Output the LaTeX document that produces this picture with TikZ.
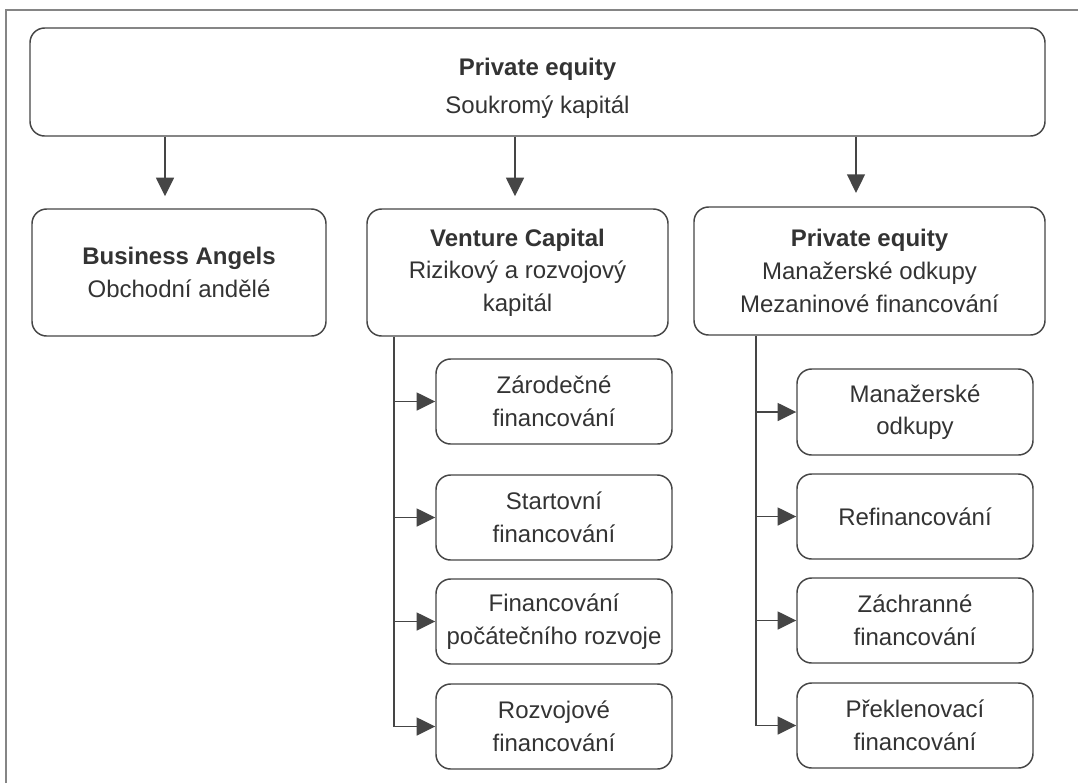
\documentclass[tikz,border=0pt]{standalone}
\usepackage{fontspec}
\setmainfont{Liberation Sans}
\usetikzlibrary{arrows.meta}
\definecolor{ink}{HTML}{333333}
\definecolor{linec}{HTML}{454545}
\definecolor{framec}{HTML}{858585}
\tikzset{
  box/.style 2 args={draw=linec, line width=1.1pt, rounded corners=11pt, align=center,
    text=ink, inner sep=0pt, minimum width=#1*0.75pt, minimum height=#2*0.75pt,
    font=\fontsize{18}{24.5}\selectfont},
  arr/.style={draw=linec, line width=1.1pt, -{Triangle[length=14pt,width=13.5pt]}},
  trunk/.style={draw=linec, line width=1.1pt}
}
\begin{document}
\begin{tikzpicture}[x=0.75pt, y=-0.75pt]
\useasboundingbox (0,0) rectangle (1078,783);
\draw[framec, line width=1.6pt] (6,783) -- (6,10) -- (1078,10);

\node[box={1015}{108}] (top) at (537.5,82) {\rule{0pt}{22pt}\textbf{Private equity}\\[4pt]Soukromý kapitál};
\node[box={294}{127}] (ba) at (179,272.5) {\textbf{Business Angels}\\Obchodní andělé};
\node[box={301}{127}] (vc) at (517.5,272.5) {\textbf{Venture Capital}\\Rizikový a rozvojový\\kapitál};
\node[box={351}{128}] (pe) at (869.5,271) {\textbf{Private equity}\\Manažerské odkupy\\Mezaninové financování};

\node[box={236}{85}] (z1) at (554,401.5) {Zárodečné\\financování};
\node[box={236}{85}] (z2) at (554,517.5) {Startovní\\financování};
\node[box={236}{85}] (z3) at (554,621.5) {Financování\\počátečního rozvoje};
\node[box={236}{85}] (z4) at (554,726.5) {Rozvojové\\financování};

\node[box={236}{86}] (r1) at (915,412) {Manažerské\\odkupy};
\node[box={236}{85}] (r2) at (915,516.5) {Refinancování};
\node[box={236}{85}] (r3) at (915,620.5) {Záchranné\\financování};
\node[box={236}{85}] (r4) at (915,725.5) {Překlenovací\\financování};

\coordinate (a1) at (165,0);
\coordinate (a2) at (515,0);
\coordinate (a3) at (856,0);
\coordinate (v1) at (394,0);
\coordinate (v2) at (756,0);

\draw[arr, shorten >=9pt] (top.south -| a1) -- (ba.north -| a1);
\draw[arr, shorten >=9pt] (top.south -| a2) -- (vc.north -| a2);
\draw[arr, shorten >=10pt] (top.south -| a3) -- (pe.north -| a3);

\draw[trunk] (vc.south -| v1) -- (z4.west -| v1);
\foreach \n in {z1,z2,z3,z4} \draw[arr] (\n.west -| v1) -- (\n.west);
\draw[trunk] (pe.south -| v2) -- (r4.west -| v2);
\foreach \n in {r1,r2,r3,r4} \draw[arr] (\n.west -| v2) -- (\n.west);
\end{tikzpicture}
\end{document}
